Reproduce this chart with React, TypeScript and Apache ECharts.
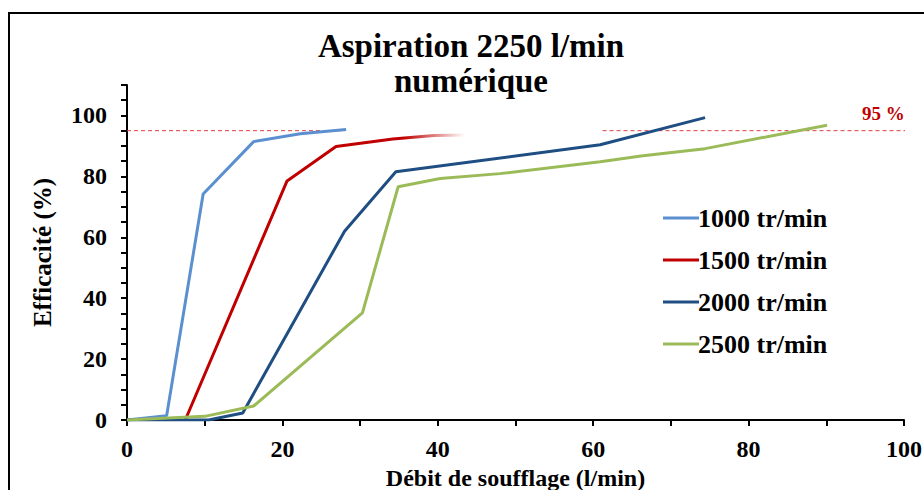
import React, { useEffect, useRef } from "react";
import * as echarts from "echarts";

const titleLines = ["Aspiration 2250 l/min", "numérique"];
const xAxisName = "Débit de soufflage (l/min)";
const yAxisName = "Efficacité (%)";
const seriesNames = ["1000 tr/min", "1500 tr/min", "2000 tr/min", "2500 tr/min"];

const s1000: [number, number][] = [[0, 0], [5.1, 1.4], [9.8, 74.2], [16.3, 91.4], [22.3, 94], [28.2, 95.4]];
const s1500: [number, number][] = [[7.5, 0], [20.6, 78.5], [26.9, 89.8], [34.2, 92.3], [39.5, 93.4], [43.5, 93.6]];
const s2000: [number, number][] = [[0, 0], [10.5, 0], [14.9, 2.3], [28, 62], [34.6, 81.5], [60.9, 90.4], [74.4, 99.3]];
const s2500: [number, number][] = [[0, 0], [10, 1.2], [16.3, 4.6], [30.3, 35.2], [34.9, 76.6], [40.3, 79.3], [48, 80.9], [60.9, 84.8], [66.4, 86.8], [74.4, 89.1], [90.1, 96.8]];

const thresholdLeft: [number, number][] = [[0, 95], [28, 95]];
const thresholdRight: [number, number][] = [[61.2, 95], [101.4, 95]];
const thresholdLabel = "95 %";

const colors = ["#5B8FD0", "#C00000", "#1F4E82", "#9BBB59"];
const FONT = "'Liberation Serif', 'Times New Roman', serif";

export default function App() {
  const ref = useRef<HTMLDivElement>(null);
  useEffect(() => {
    if (!ref.current) return;
    const chart = echarts.init(ref.current, null, { renderer: "svg" });
    const lineSeries = (name: string, data: [number, number][], color: any, legendColor?: string) => ({
      name,
      type: "line",
      data,
      symbol: "none",
      showSymbol: false,
      lineStyle: { width: 3, color },
      itemStyle: { color: legendColor || color },
      z: 3,
    });
    const redFade = new echarts.graphic.LinearGradient(0, 0, 1, 0, [
      { offset: 0, color: "#C00000" },
      { offset: 0.78, color: "#C00000" },
      { offset: 1, color: "rgba(192,0,0,0)" },
    ]);
    const dashed = (data: [number, number][]) => ({
      type: "line",
      data,
      symbol: "none",
      silent: true,
      clip: false,
      lineStyle: { width: 1, color: "#E03A40", type: [4, 3] },
      z: 1,
    });
    chart.setOption({
      animation: false,
      backgroundColor: "#fff",
      title: {
        text: titleLines.join("\n"),
        left: 466,
        top: 23,
        textAlign: "center",
        textStyle: { fontFamily: FONT, fontWeight: "bold", fontSize: 33, lineHeight: 35, color: "#000" },
      },
      legend: {
        orient: "vertical",
        left: 658,
        top: 200,
        icon: "rect",
        itemWidth: 36,
        itemHeight: 3,
        itemGap: 16,
        data: seriesNames,
        textStyle: { fontFamily: FONT, fontWeight: "bold", fontSize: 26, lineHeight: 25, color: "#000", padding: [0, 0, 0, -6] },
      },
      grid: { left: 127, right: 20, top: 85, bottom: 70, outerBoundsMode: "none", containLabel: false },
      xAxis: {
        type: "value",
        min: 0,
        max: 100,
        interval: 10,
        name: xAxisName,
        nameLocation: "middle",
        nameGap: 34,
        nameTextStyle: { fontFamily: FONT, fontWeight: "bold", fontSize: 24, color: "#000" },
        axisLine: { show: true, lineStyle: { color: "#000", width: 2 } },
        axisTick: { show: true, length: 6, lineStyle: { color: "#000", width: 2 } },
        splitLine: { show: false },
        axisLabel: {
          margin: 17,
          fontFamily: FONT,
          fontWeight: "bold",
          fontSize: 24,
          color: "#000",
          formatter: (v: number) => (v % 20 === 0 ? String(v) : ""),
        },
      },
      yAxis: {
        type: "value",
        min: 0,
        max: 110,
        interval: 5,
        name: yAxisName,
        nameLocation: "middle",
        nameGap: 72,
        nameTextStyle: { fontFamily: FONT, fontWeight: "bold", fontSize: 25, color: "#000" },
        axisLine: { show: true, lineStyle: { color: "#000", width: 2 } },
        axisTick: { show: true, length: 6, lineStyle: { color: "#000", width: 2 } },
        splitLine: { show: false },
        axisLabel: {
          margin: 20,
          fontFamily: FONT,
          fontWeight: "bold",
          fontSize: 24,
          color: "#000",
          formatter: (v: number) => (v % 20 === 0 && v <= 100 ? String(v) : ""),
        },
      },
      graphic: [
        {
          type: "rect",
          shape: { x: 9, y: 13, width: 1000, height: 1000 },
          style: { fill: "none", stroke: "#000", lineWidth: 2 },
          silent: true,
        },
        {
          type: "text",
          left: 862,
          top: 104,
          style: { text: thresholdLabel, fill: "#C00000", font: `bold 19px ${FONT}` },
        },
      ],
      series: [
        dashed(thresholdLeft),
        dashed(thresholdRight),
        lineSeries(seriesNames[0], s1000, colors[0]),
        lineSeries(seriesNames[1], s1500, redFade, colors[1]),
        lineSeries(seriesNames[2], s2000, colors[2]),
        lineSeries(seriesNames[3], s2500, colors[3]),
      ],
    });
    return () => chart.dispose();
  }, []);
  return <div ref={ref} style={{ position: "absolute", left: 0, top: 0, width: 924, height: 490 }} />;
}
